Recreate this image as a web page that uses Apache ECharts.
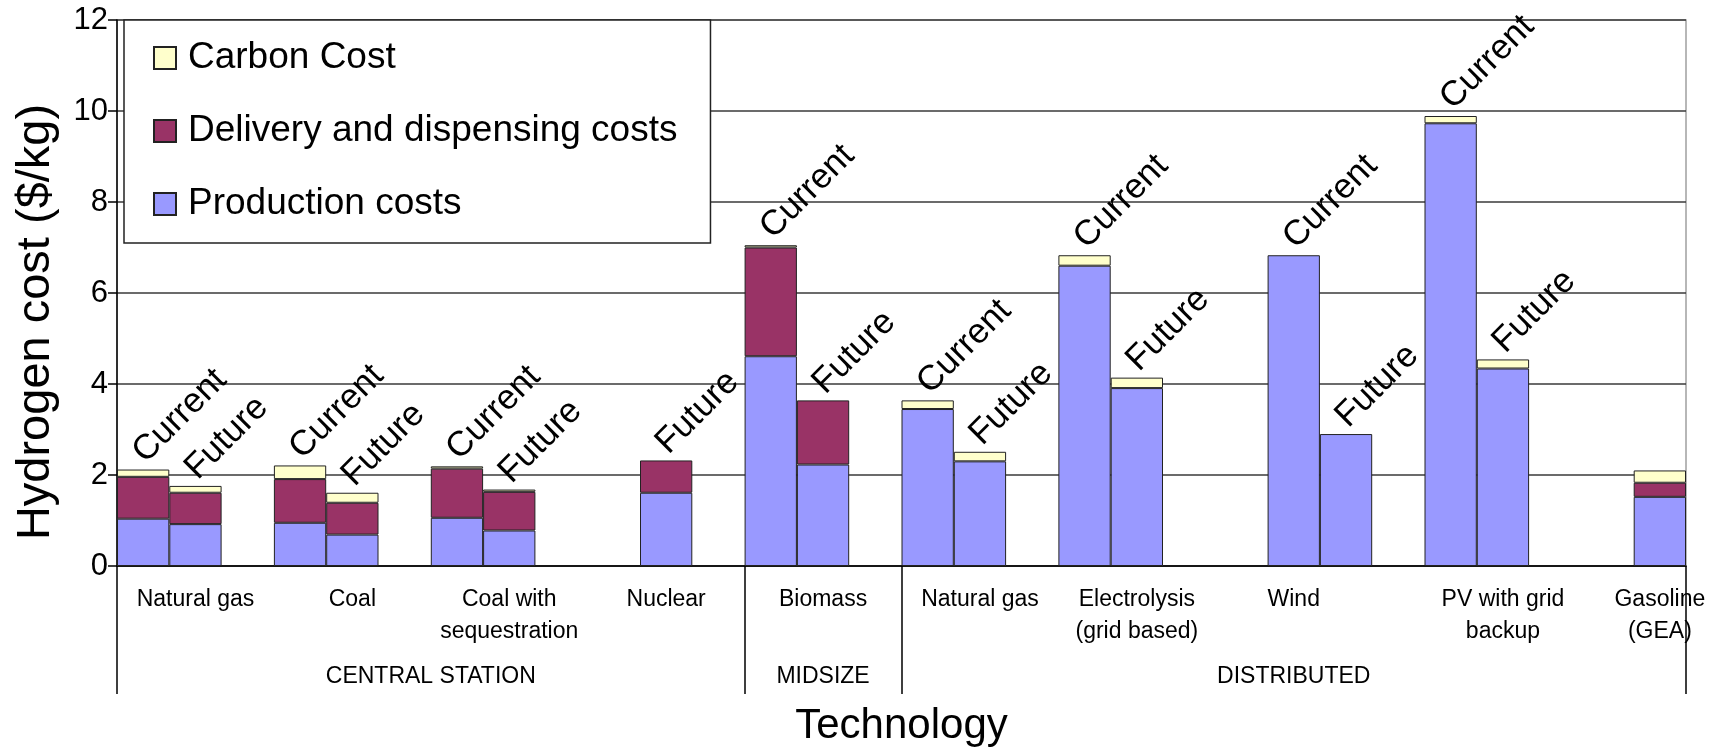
<!DOCTYPE html>
<html>
<head>
<meta charset="utf-8">
<script src="https://cdn.jsdelivr.net/npm/echarts@6/dist/echarts.min.js"></script>
<style>
html,body{margin:0;padding:0;background:#fff;}
#chart{width:1718px;height:747px;}
</style>
</head>
<body>
<div id="chart"></div>
<script>
// ---- data ----
const slotCount = 30; // each technology occupies 3 bar slots
const technologies = ['Natural gas', 'Coal', 'Coal with\nsequestration', 'Nuclear', 'Biomass',
  'Natural gas', 'Electrolysis\n(grid based)', 'Wind', 'PV with grid\nbackup', 'Gasoline\n(GEA)'];
const techLabelSlot = [1, 4, 7, 10, 13, 16, 19, 22, 26, 29];
const groupNames = ['CENTRAL STATION', 'MIDSIZE', 'DISTRIBUTED'];
const groupSlotCounts = [12, 3, 15];

const barSlots = [0, 1, 3, 4, 6, 7, 10, 12, 13, 15, 16, 18, 19, 22, 23, 25, 26, 29];
const barPeriod = ['Current', 'Future', 'Current', 'Future', 'Current', 'Future', 'Future',
  'Current', 'Future', 'Current', 'Future', 'Current', 'Future', 'Current', 'Future',
  'Current', 'Future', ''];
const production = [1.04, 0.92, 0.95, 0.69, 1.06, 0.78, 1.61, 4.61, 2.23, 3.45, 2.30, 6.60, 3.91, 6.83, 2.90, 9.73, 4.34, 1.52];
const delivery   = [0.92, 0.69, 0.96, 0.70, 1.08, 0.85, 0.71, 2.39, 1.41, null, null, null, null, null, null, null, null, 0.31];
const carbon     = [0.16, 0.15, 0.30, 0.22, 0.05, 0.05, null, 0.05, null, 0.19, 0.21, 0.23, 0.23, null, null, 0.16, 0.20, 0.27];

const yTicks = { min: 0, max: 12, interval: 2 };

// ---- build slot arrays ----
const slotKeys = Array.from({length: slotCount}, (_, i) => 's' + i);
const slotLabel = new Array(slotCount).fill('');
techLabelSlot.forEach((s, i) => { slotLabel[s] = technologies[i]; });
function toSlots(arr) {
  const out = new Array(slotCount).fill(null);
  barSlots.forEach((s, i) => { out[s] = arr[i]; });
  return out;
}
const periodBySlot = toSlots(barPeriod);
const labelData = periodBySlot.map(p => (p ? 0 : null));

const groupBounds = [0];
groupSlotCounts.forEach(c => groupBounds.push(groupBounds[groupBounds.length - 1] + c));
const groupCenters = groupSlotCounts.map((c, i) => groupBounds[i] + c / 2);

const FONT = 'Liberation Sans, Arial, sans-serif';
const border = { borderColor: '#222', borderWidth: 1 };

const chart = echarts.init(document.getElementById('chart'));
chart.setOption({
  animation: false,
  backgroundColor: '#fff',
  textStyle: { fontFamily: FONT, color: '#000' },
  grid: { left: 117, right: 32, top: 20, bottom: 181, show: true, borderColor: '#a0a0a0', borderWidth: 1.5,
    backgroundColor: 'transparent', containLabel: false, outerBoundsMode: 'none' },
  legend: {
    data: ['Carbon Cost', 'Delivery and dispensing costs', 'Production costs'],
    orient: 'vertical', left: 124, top: 20,
    itemWidth: 22, itemHeight: 22, itemGap: 35,
    padding: [19, 33, 20, 29],
    borderColor: '#222', borderWidth: 1.5, backgroundColor: '#fff',
    icon: 'rect',
    textStyle: { fontSize: 37, fontFamily: FONT, color: '#000', lineHeight: 38, padding: [0, 0, 0, 7] }
  },
  xAxis: [
    {
      type: 'category', data: slotKeys, position: 'bottom',
      axisLine: { lineStyle: { color: '#000', width: 1.5 } },
      axisTick: { show: false },
      axisLabel: {
        interval: 0, fontSize: 23, lineHeight: 32, color: '#000', margin: 18,
        formatter: (v, i) => slotLabel[i]
      }
    },
    {
      type: 'value', min: 0, max: slotCount, position: 'bottom',
      axisLine: { show: false },
      splitLine: { show: false },
      axisTick: { show: true, customValues: groupBounds, length: 128, lineStyle: { color: '#000', width: 1.5 } },
      axisLabel: {
        customValues: groupCenters, fontSize: 23, lineHeight: 32, color: '#000', margin: 95,
        formatter: v => { const i = groupCenters.indexOf(v); return i >= 0 ? groupNames[i] : ''; }
      },
      name: 'Technology', nameLocation: 'middle', nameGap: 139,
      nameTextStyle: { fontSize: 42, color: '#000', fontFamily: FONT }
    }
  ],
  yAxis: {
    type: 'value', min: yTicks.min, max: yTicks.max, interval: yTicks.interval,
    axisLine: { show: true, lineStyle: { color: '#000', width: 1.5 } },
    axisTick: { show: true, length: 9, lineStyle: { color: '#000', width: 1.5 } },
    axisLabel: { fontSize: 31, color: '#000', margin: 9 },
    splitLine: { lineStyle: { color: '#3a3a3a', width: 1.5 } },
    name: 'Hydrogen cost ($/kg)', nameLocation: 'middle', nameGap: 57,
    nameTextStyle: { fontSize: 47, color: '#000', fontFamily: FONT, padding: [0, 58, 0, 0] }
  },
  series: [
    { name: 'Production costs', type: 'bar', stack: 'total', xAxisIndex: 0, barCategoryGap: '0%', barGap: '0%',
      data: toSlots(production), itemStyle: Object.assign({ color: '#9999FF' }, border) },
    { name: 'Delivery and dispensing costs', type: 'bar', stack: 'total', xAxisIndex: 0,
      data: toSlots(delivery), itemStyle: Object.assign({ color: '#993366' }, border) },
    { name: 'Carbon Cost', type: 'bar', stack: 'total', xAxisIndex: 0,
      data: toSlots(carbon), itemStyle: Object.assign({ color: '#FFFFCC' }, border) },
    { name: 'period', type: 'bar', stack: 'total', xAxisIndex: 0,
      data: labelData, itemStyle: { color: 'transparent', borderWidth: 0 },
      label: {
        show: true, position: 'top', distance: 2, rotate: 45, align: 'left', verticalAlign: 'bottom',
        offset: [4, 7], fontSize: 35, color: '#000', fontFamily: FONT,
        formatter: p => periodBySlot[p.dataIndex] || ''
      }
    }
  ]
});
</script>
</body>
</html>
